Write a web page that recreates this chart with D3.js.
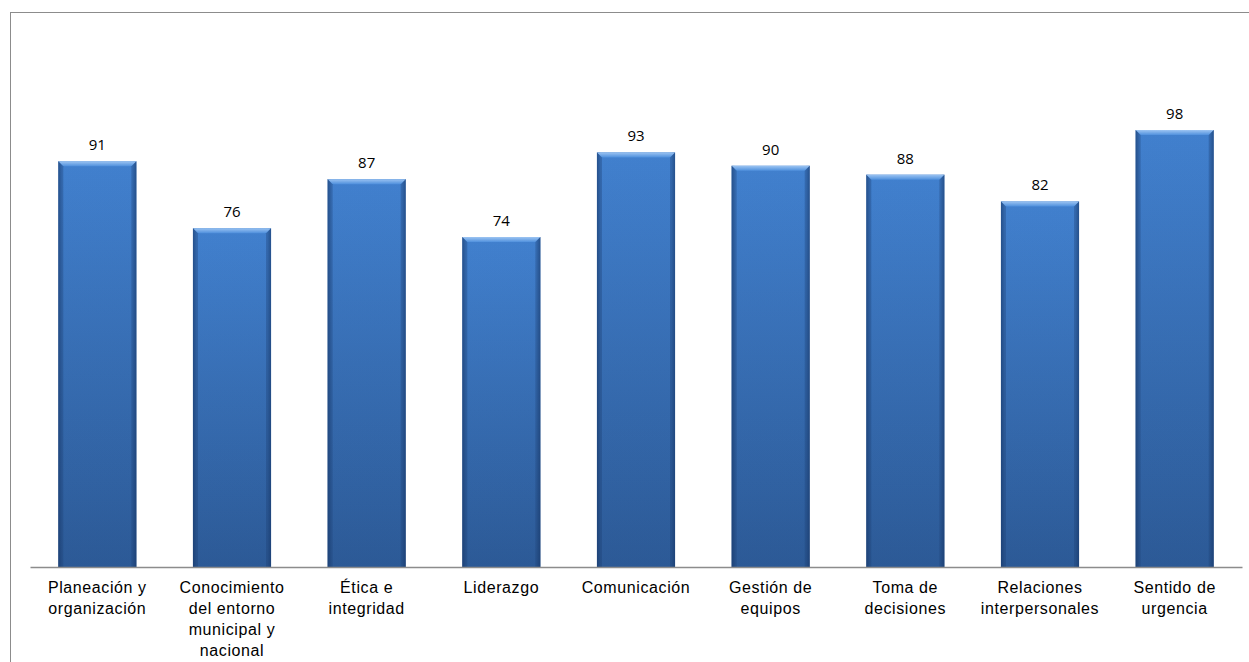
<!DOCTYPE html>
<html>
<head>
<meta charset="utf-8">
<script src="https://cdn.jsdelivr.net/npm/d3@7"></script>
<style>
  html, body { margin: 0; padding: 0; background: #ffffff; }
  svg { display: block; }
</style>
</head>
<body>
<svg id="chart" width="1249" height="662"></svg>
<script>
const categories = [
  "Planeación y organización",
  "Conocimiento del entorno municipal y nacional",
  "Ética e integridad",
  "Liderazgo",
  "Comunicación",
  "Gestión de equipos",
  "Toma de decisiones",
  "Relaciones interpersonales",
  "Sentido de urgencia"
];
const tickLabels = [
  ["Planeación y", "organización"],
  ["Conocimiento", "del entorno", "municipal y", "nacional"],
  ["Ética e", "integridad"],
  ["Liderazgo"],
  ["Comunicación"],
  ["Gestión de", "equipos"],
  ["Toma de", "decisiones"],
  ["Relaciones", "interpersonales"],
  ["Sentido de", "urgencia"]
];
const values = [91, 76, 87, 74, 93, 90, 88, 82, 98];

const svg = d3.select("#chart");
const W = 1249, H = 662;
const left = 30, right = 1242, baseY = 567, topY = 32;

// outer frame (cut off at right and bottom like the reference)
svg.append("rect")
  .attr("x", 10.5).attr("y", 12.5)
  .attr("width", W + 20).attr("height", H + 20)
  .attr("fill", "none").attr("stroke", "#8c8c8c").attr("stroke-width", 1);

const x = d3.scaleBand().domain(categories).range([left, right])
  .paddingInner(0.42).paddingOuter(0.21);
const y = d3.scaleLinear().domain([0, 120]).range([baseY, topY]);

const defs = svg.append("defs");
const gv = defs.append("linearGradient").attr("id", "gv")
  .attr("x1", 0).attr("y1", 0).attr("x2", 0).attr("y2", 1);
gv.append("stop").attr("offset", "0%").attr("stop-color", "#4688d9");
gv.append("stop").attr("offset", "100%").attr("stop-color", "#2f5e9c");

const gh = defs.append("linearGradient").attr("id", "gh")
  .attr("x1", 0).attr("y1", 0).attr("x2", 1).attr("y2", 0);
gh.append("stop").attr("offset", "0%").attr("stop-color", "#0a2550").attr("stop-opacity", 0.45);
gh.append("stop").attr("offset", "5%").attr("stop-color", "#0a2550").attr("stop-opacity", 0.08);
gh.append("stop").attr("offset", "95%").attr("stop-color", "#0a2550").attr("stop-opacity", 0.08);
gh.append("stop").attr("offset", "100%").attr("stop-color", "#0a2550").attr("stop-opacity", 0.45);

const gt = defs.append("linearGradient").attr("id", "gt")
  .attr("x1", 0).attr("y1", 0).attr("x2", 0).attr("y2", 1);
gt.append("stop").attr("offset", "0%").attr("stop-color", "#9cc4f2");
gt.append("stop").attr("offset", "100%").attr("stop-color", "#4f90dd");

const bars = svg.append("g").selectAll("g").data(values).join("g");
bars.append("rect")
  .attr("x", (d, i) => x(categories[i]))
  .attr("y", d => y(d))
  .attr("width", x.bandwidth())
  .attr("height", d => baseY - y(d))
  .attr("fill", "url(#gv)");
bars.append("rect")
  .attr("x", (d, i) => x(categories[i]))
  .attr("y", d => y(d))
  .attr("width", x.bandwidth())
  .attr("height", d => baseY - y(d))
  .attr("fill", "url(#gh)");
// top bevel
const bev = 5;
bars.append("path")
  .attr("d", (d, i) => {
    const x0 = x(categories[i]), x1 = x0 + x.bandwidth(), t = y(d);
    return `M${x0},${t}L${x1},${t}L${x1 - bev},${t + bev}L${x0 + bev},${t + bev}Z`;
  })
  .attr("fill", "url(#gt)");
bars.append("path")
  .attr("d", (d, i) => {
    const x0 = x(categories[i]), t = y(d);
    return `M${x0},${t}L${x0 + bev},${t + bev}L${x0 + bev},${baseY}L${x0},${baseY}Z`;
  })
  .attr("fill", "#1d3f72").attr("opacity", 0.35);
bars.append("path")
  .attr("d", (d, i) => {
    const x1 = x(categories[i]) + x.bandwidth(), t = y(d);
    return `M${x1},${t}L${x1 - bev},${t + bev}L${x1 - bev},${baseY}L${x1},${baseY}Z`;
  })
  .attr("fill", "#1d3f72").attr("opacity", 0.35);

// value labels
svg.append("g").selectAll("text").data(values).join("text")
  .attr("x", (d, i) => x(categories[i]) + x.bandwidth() / 2)
  .attr("y", d => y(d) - 11)
  .attr("text-anchor", "middle")
  .attr("font-family", "'Open Sans', 'Liberation Sans', sans-serif")
  .attr("font-size", 15)
  .attr("fill", "#000")
  .text(d => d);

// x axis
const xAxis = d3.axisBottom(x).tickSize(0).tickFormat("");
const ax = svg.append("g").attr("transform", `translate(0,${baseY})`).call(xAxis);
ax.select(".domain").attr("stroke", "#8c8c8c").attr("stroke-width", 1.3);

const lbl = svg.append("g").selectAll("text").data(categories).join("text")
  .attr("x", d => x(d) + x.bandwidth() / 2)
  .attr("y", 593)
  .attr("text-anchor", "middle")
  .attr("font-family", "'Liberation Sans', Arial, sans-serif")
  .attr("font-size", 16)
  .attr("letter-spacing", 0.6)
  .attr("fill", "#000");
lbl.each(function(d, i) {
  d3.select(this).selectAll("tspan").data(tickLabels[i]).join("tspan")
    .attr("x", x(d) + x.bandwidth() / 2)
    .attr("dy", (t, j) => j === 0 ? 0 : 21)
    .text(t => t);
});
</script>
</body>
</html>
